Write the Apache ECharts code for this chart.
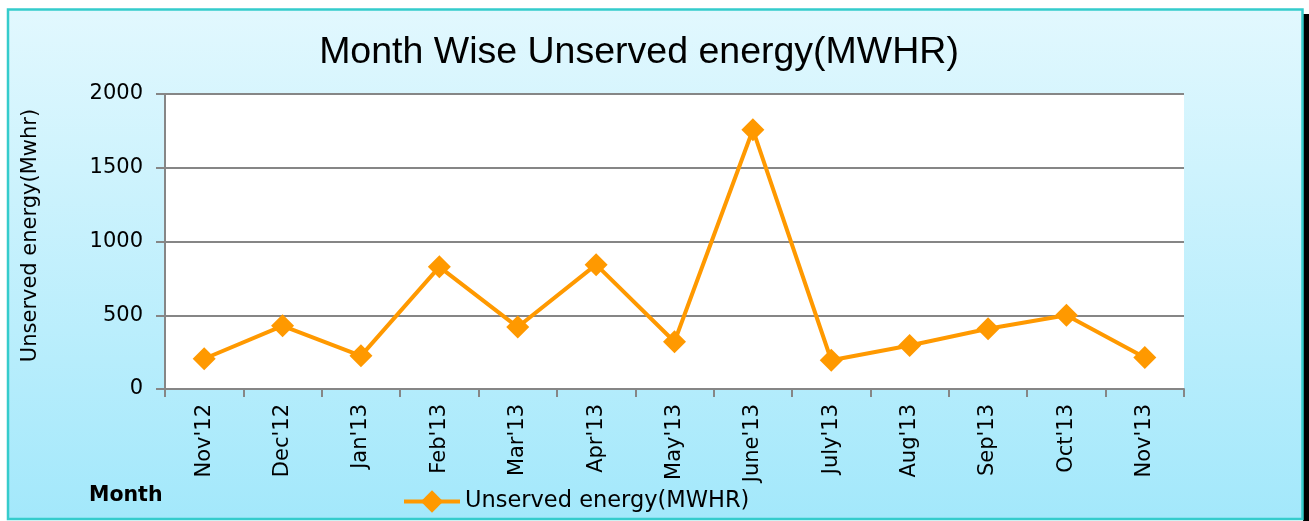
<!DOCTYPE html>
<html>
<head>
<meta charset="utf-8">
<script src="https://cdn.jsdelivr.net/npm/echarts@6/dist/echarts.min.js"></script>
<style>
html,body{margin:0;padding:0;background:#fff;}
#main{width:1309px;height:521px;}
</style>
</head>
<body>
<div id="main"></div>
<script>
var months = ["Nov'12", "Dec'12", "Jan'13", "Feb'13", "Mar'13", "Apr'13", "May'13", "June'13", "July'13", "Aug'13", "Sep'13", "Oct'13", "Nov'13"];
var unserved = [205, 428, 225, 828, 420, 843, 320, 1758, 195, 295, 408, 500, 213];
var yTicks = [0, 500, 1000, 1500, 2000];

var myChart = echarts.init(document.getElementById('main'));
var option = {
    animation: false,
    graphic: [
        // shadow on the right
        { type: 'rect', shape: { x: 1303, y: 14, width: 6, height: 507 }, style: { fill: '#000' }, z: -10 },
        // chart area box
        {
            type: 'rect', shape: { x: 8, y: 9.5, width: 1294.5, height: 509.5 }, z: -9,
            style: {
                fill: new echarts.graphic.LinearGradient(0, 0, 0, 1, [
                    { offset: 0, color: '#e2f8fe' },
                    { offset: 1, color: '#a3e8fb' }
                ]),
                stroke: '#35cccc', lineWidth: 2.5
            }
        },
        { type: 'text', left: 89, top: 485, style: { text: 'Month', font: 'bold 20.5px "DejaVu Sans"', fill: '#000' } }
    ],
    title: {
        text: 'Month Wise Unserved energy(MWHR)',
        left: 634, top: 29, textAlign: 'center',
        textStyle: { fontFamily: '"Liberation Sans", Arial', fontSize: 37.5, fontWeight: 'normal', color: '#000' }
    },
    legend: {
        left: 397, top: 485,
        itemWidth: 56, itemHeight: 28, itemGap: 7,
        lineStyle: { width: 4 },
        textStyle: { fontFamily: '"DejaVu Sans"', fontSize: 22.5, color: '#000' },
        data: ['Unserved energy(MWHR)']
    },
    grid: { left: 165, right: 125, top: 94, bottom: 132, backgroundColor: '#fff', show: true, borderWidth: 0 },
    xAxis: {
        type: 'category',
        data: months,
        axisLine: { lineStyle: { color: '#868686', width: 2 } },
        axisTick: { show: true, length: 8, lineStyle: { color: '#868686', width: 2 } },
        axisLabel: { rotate: 90, interval: 0, margin: 15, fontFamily: '"DejaVu Sans"', fontSize: 21, color: '#000' }
    },
    yAxis: {
        type: 'value',
        min: yTicks[0], max: yTicks[yTicks.length - 1], interval: 500,
        name: 'Unserved energy(Mwhr)',
        nameLocation: 'middle', nameGap: 124, nameRotate: 90,
        nameTextStyle: { fontFamily: '"DejaVu Sans"', fontSize: 21, color: '#000', padding: [0, 0, 0, 12] },
        axisLine: { show: true, lineStyle: { color: '#868686', width: 2 } },
        axisTick: { show: true, length: 9, lineStyle: { color: '#868686', width: 2 } },
        axisLabel: {
            margin: 22, fontFamily: '"DejaVu Sans"', fontSize: 21, color: '#000',
            formatter: function (v) { return String(v); }
        },
        splitLine: { lineStyle: { color: '#868686', width: 2 } }
    },
    series: [{
        name: 'Unserved energy(MWHR)',
        type: 'line',
        data: unserved,
        symbol: 'diamond',
        symbolSize: 23,
        itemStyle: { color: '#ff9900' },
        lineStyle: { color: '#ff9900', width: 4 }
    }]
};
myChart.setOption(option);
</script>
</body>
</html>
